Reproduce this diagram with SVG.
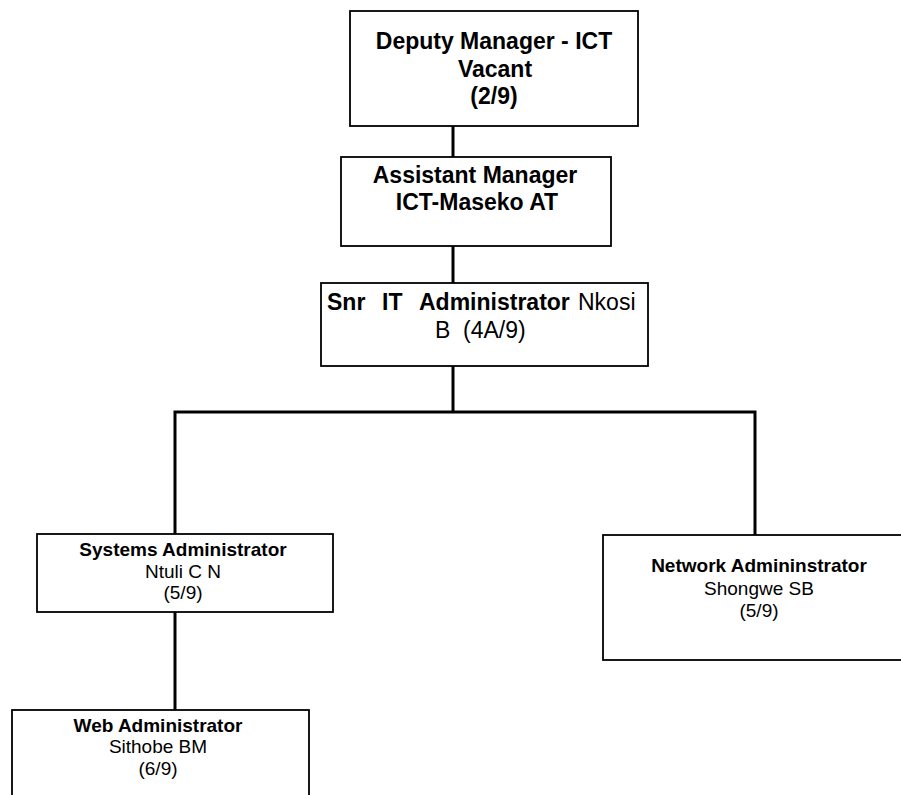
<svg xmlns="http://www.w3.org/2000/svg" width="901" height="795" viewBox="0 0 901 795">
<style>
.box{fill:#fff;stroke:#000;stroke-width:1.8}
.con{fill:none;stroke:#000;stroke-width:3}
text{font-family:"Liberation Sans",Arial,sans-serif;fill:#000}
.t23{font-size:23px}
.t19{font-size:19px}
.b{font-weight:bold}
.c{text-anchor:middle}
</style>
<rect width="901" height="795" fill="#fff"/>
<g id="connectors">
<line class="con" x1="453" y1="126" x2="453" y2="157"/>
<line class="con" x1="453" y1="246" x2="453" y2="283"/>
<line class="con" x1="453" y1="366" x2="453" y2="412"/>
<polyline class="con" points="175,534 175,412 755,412 755,535"/>
<line class="con" x1="175" y1="612" x2="175" y2="710"/>
</g>
<g id="deputy">
<rect class="box" x="350" y="11" width="288" height="115"/>
<text class="t23 b c" x="494" y="49">Deputy Manager - ICT</text>
<text class="t23 b c" x="495" y="76.5">Vacant</text>
<text class="t23 b c" x="494" y="104">(2/9)</text>
</g>
<g id="assistant">
<rect class="box" x="341" y="157" width="270" height="89"/>
<text class="t23 b c" x="475" y="183">Assistant Manager</text>
<text class="t23 b c" x="477" y="210">ICT-Maseko AT</text>
</g>
<g id="snr">
<rect class="box" x="321" y="283" width="327" height="83"/>
<text class="t23" y="310"><tspan class="b" x="327">Snr</tspan><tspan class="b" x="382">IT</tspan><tspan class="b" x="419">Administrator</tspan><tspan x="578">Nkosi</tspan></text>
<text class="t23" y="338"><tspan x="435">B</tspan><tspan x="463">(4A/9)</tspan></text>
</g>
<g id="systems">
<rect class="box" x="37" y="534" width="296" height="78"/>
<text class="t19 b c" x="183" y="556">Systems Administrator</text>
<text class="t19 c" x="183" y="577.5">Ntuli C N</text>
<text class="t19 c" x="183" y="599">(5/9)</text>
</g>
<g id="network">
<rect class="box" x="603" y="535" width="310" height="125"/>
<text class="t19 b c" x="759" y="572">Network Admininstrator</text>
<text class="t19 c" x="759" y="594.5">Shongwe SB</text>
<text class="t19 c" x="759" y="617">(5/9)</text>
</g>
<g id="web">
<rect class="box" x="12" y="710" width="297" height="95"/>
<text class="t19 b c" x="158" y="732">Web Administrator</text>
<text class="t19 c" x="158" y="753">Sithobe BM</text>
<text class="t19 c" x="158" y="774.5">(6/9)</text>
</g>
</svg>
